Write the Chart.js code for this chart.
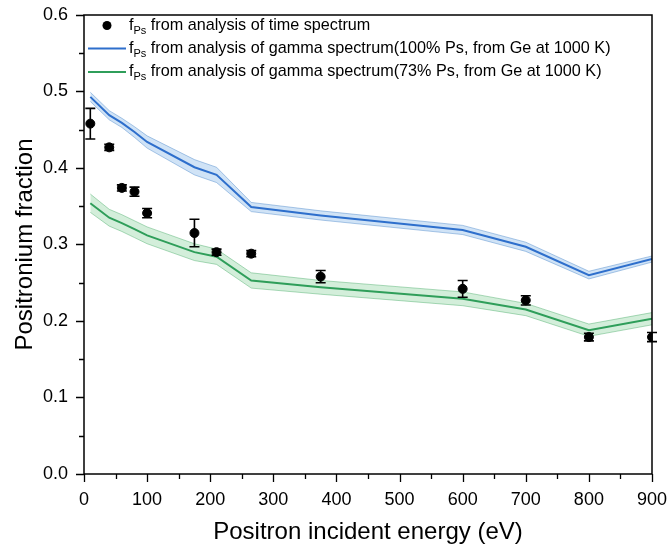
<!DOCTYPE html>
<html><head><meta charset="utf-8">
<script src="https://cdn.jsdelivr.net/npm/chart.js@4"></script>
<style>html,body{margin:0;padding:0;background:#fff}#wrap{width:669px;height:548px}</style>
</head><body>
<div id="wrap"><canvas id="c" width="669" height="548"></canvas></div>
<script>
const energies   = [10, 40, 60, 80, 100, 175, 210, 265, 375, 600, 700, 800, 900];
const timeFps    = [0.458, 0.427, 0.374, 0.369, 0.341, 0.315, 0.290, 0.288, 0.258, 0.242, 0.227, 0.179, 0.179];
const timeErr    = [0.020, 0.004, 0.004, 0.006, 0.006, 0.018, 0.004, 0.004, 0.008, 0.011, 0.006, 0.005, 0.006];
const gamma100   = [0.493, 0.469, 0.459, 0.447, 0.434, 0.401, 0.391, 0.349, 0.338, 0.319, 0.297, 0.260, 0.281];
const gamma100Err= [0.006, 0.006, 0.006, 0.007, 0.008, 0.010, 0.010, 0.006, 0.006, 0.006, 0.006, 0.005, 0.004];
const gamma73    = [0.354, 0.335, 0.328, 0.320, 0.312, 0.290, 0.284, 0.253, 0.244, 0.229, 0.215, 0.188, 0.203];
const gamma73Err = [0.012, 0.011, 0.011, 0.011, 0.011, 0.011, 0.010, 0.010, 0.009, 0.009, 0.008, 0.008, 0.008];
const xTicks = [0, 100, 200, 300, 400, 500, 600, 700, 800, 900];
const yTicks = [0.0, 0.1, 0.2, 0.3, 0.4, 0.5, 0.6];
const legendLabels = [
  ' from analysis of time spectrum',
  ' from analysis of gamma spectrum(100% Ps, from Ge at 1000 K)',
  ' from analysis of gamma spectrum(73% Ps, from Ge at 1000 K)'
];

const FONT = '"Liberation Sans", Arial, sans-serif';
const BLUE = '#2e6fcc', BLUE_FILL = 'rgba(120,175,230,0.35)', BLUE_EDGE = 'rgba(70,130,200,0.55)';
const GREEN = '#2f9e5a', GREEN_FILL = 'rgba(130,205,150,0.35)', GREEN_EDGE = 'rgba(70,170,100,0.55)';

const pts = (ys, d, s) => energies.map((x, i) => ({x, y: ys[i] + (d ? s * d[i] : 0)}));

const errorBars = {
  id: 'errorBars',
  afterDatasetsDraw(chart) {
    const {ctx, scales: {x, y}} = chart;
    ctx.save();
    ctx.strokeStyle = '#000'; ctx.lineWidth = 1.6;
    energies.forEach((e, i) => {
      const px = x.getPixelForValue(e);
      const t = y.getPixelForValue(timeFps[i] + timeErr[i]);
      const b = y.getPixelForValue(timeFps[i] - timeErr[i]);
      ctx.beginPath();
      ctx.moveTo(px, t); ctx.lineTo(px, b);
      ctx.moveTo(px - 5, t); ctx.lineTo(px + 5, t);
      ctx.moveTo(px - 5, b); ctx.lineTo(px + 5, b);
      ctx.stroke();
    });
    ctx.restore();
  }
};

const frame = {
  id: 'frame',
  afterDraw(chart) {
    const {ctx, chartArea: a, scales: {x, y}} = chart;
    ctx.save();
    ctx.strokeStyle = '#000'; ctx.lineWidth = 1.5;
    ctx.strokeRect(a.left, a.top, a.right - a.left, a.bottom - a.top);
    ctx.lineWidth = 1.3;
    ctx.beginPath();
    for (let v = 0; v <= 900.001; v += 50) {
      const px = Math.round(x.getPixelForValue(v)) + 0.5;
      const len = (Math.round(v) % 100 === 0) ? 8 : 5;
      ctx.moveTo(px, a.bottom); ctx.lineTo(px, a.bottom + len);
    }
    for (let k = 0; k <= 12; k++) {
      const v = k * 0.05;
      const py = Math.round(y.getPixelForValue(v)) + 0.5;
      const len = (k % 2 === 0) ? 8 : 5;
      ctx.moveTo(a.left, py); ctx.lineTo(a.left - len, py);
    }
    ctx.stroke();
    // legend
    const rows = [25.5, 48.5, 72];
    ctx.fillStyle = '#000';
    ctx.beginPath(); ctx.arc(107, rows[0], 4.5, 0, Math.PI * 2); ctx.fill();
    ctx.lineWidth = 2;
    ctx.strokeStyle = BLUE; ctx.beginPath(); ctx.moveTo(88, rows[1]); ctx.lineTo(126, rows[1]); ctx.stroke();
    ctx.strokeStyle = GREEN; ctx.beginPath(); ctx.moveTo(88, rows[2]); ctx.lineTo(126, rows[2]); ctx.stroke();
    ctx.textBaseline = 'middle'; ctx.textAlign = 'left';
    rows.forEach((ry, i) => {
      let tx = 129;
      ctx.font = '16.2px ' + FONT;
      ctx.fillText('f', tx, ry);
      tx += ctx.measureText('f').width;
      ctx.font = '11px ' + FONT;
      ctx.fillText('Ps', tx, ry + 5);
      tx += ctx.measureText('Ps').width;
      ctx.font = '16.2px ' + FONT;
      ctx.fillText(legendLabels[i], tx, ry);
    });
    ctx.restore();
  }
};

new Chart(document.getElementById('c'), {
  data: {
    datasets: [
      {type: 'scatter', label: 'time', data: pts(timeFps), backgroundColor: '#000', borderColor: '#000',
       pointRadius: 4.5, pointHoverRadius: 4.5, order: 0},
      {type: 'line', label: 'g100', data: pts(gamma100), borderColor: BLUE, borderWidth: 2, pointRadius: 0, tension: 0, order: 1},
      {type: 'line', label: 'g73', data: pts(gamma73), borderColor: GREEN, borderWidth: 2, pointRadius: 0, tension: 0, order: 1},
      {type: 'line', label: 'g100up', data: pts(gamma100, gamma100Err, 1), borderColor: BLUE_EDGE, borderWidth: 0.8, pointRadius: 0, fill: false, order: 2},
      {type: 'line', label: 'g100lo', data: pts(gamma100, gamma100Err, -1), borderColor: BLUE_EDGE, borderWidth: 0.8, pointRadius: 0, fill: 3, backgroundColor: BLUE_FILL, order: 2},
      {type: 'line', label: 'g73up', data: pts(gamma73, gamma73Err, 1), borderColor: GREEN_EDGE, borderWidth: 0.8, pointRadius: 0, fill: false, order: 2},
      {type: 'line', label: 'g73lo', data: pts(gamma73, gamma73Err, -1), borderColor: GREEN_EDGE, borderWidth: 0.8, pointRadius: 0, fill: 5, backgroundColor: GREEN_FILL, order: 2}
    ]
  },
  options: {
    responsive: false, animation: false,
    layout: {padding: {top: 15, right: 17, left: 0, bottom: 0}},
    plugins: {legend: {display: false}, tooltip: {enabled: false}},
    scales: {
      x: {type: 'linear', min: 0, max: 900,
          afterBuildTicks: s => { s.ticks = xTicks.map(v => ({value: v})); },
          afterFit: s => { s.height = 74; },
          grid: {display: false, drawTicks: true, tickLength: 15}, border: {display: false},
          ticks: {color: '#000', font: {family: FONT, size: 18}, padding: 0, maxRotation: 0, autoSkip: false},
          title: {display: true, text: 'Positron incident energy (eV)', color: '#000', font: {family: FONT, size: 24}, padding: {top: 0, bottom: 1}}},
      y: {type: 'linear', min: 0, max: 0.6,
          afterBuildTicks: s => { s.ticks = yTicks.map(v => ({value: v})); },
          afterFit: s => { s.width = 84; },
          grid: {display: false, drawTicks: true, tickLength: 16}, border: {display: false},
          ticks: {color: '#000', font: {family: FONT, size: 18}, padding: 0, callback: v => v.toFixed(1)},
          title: {display: true, text: 'Positronium fraction', color: '#000', font: {family: FONT, size: 24}, padding: {top: 11, bottom: 0}}}
    }
  },
  plugins: [errorBars, frame]
});
</script>
</body></html>
